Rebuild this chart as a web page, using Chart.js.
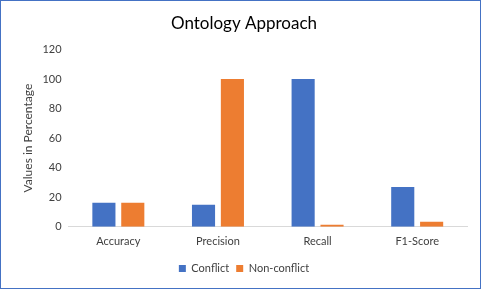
<!DOCTYPE html>
<html>
<head>
<meta charset="utf-8">
<script src="https://cdn.jsdelivr.net/npm/chart.js@4"></script>
<style>
  html, body { margin: 0; padding: 0; background: #fff; }
  #wrap { width: 481px; height: 289px; box-sizing: border-box; border: 1px solid #4472C4; }
</style>
</head>
<body>
<div id="wrap"><canvas id="chart" width="479" height="287"></canvas></div>
<script>
  // данные
  const categories = ["Accuracy", "Precision", "Recall", "F1-Score"];
  const conflict = [16.3, 14.9, 100, 27];
  const nonConflict = [16.3, 100, 1.4, 3.4];
  const yTicks = [0, 20, 40, 60, 80, 100, 120];

  const font = "Lato, 'Open Sans', sans-serif";

  new Chart(document.getElementById("chart").getContext("2d"), {
    type: "bar",
    data: {
      labels: categories,
      datasets: [
        { label: "Conflict", data: conflict, backgroundColor: "#4472C4" },
        { label: "Non-conflict", data: nonConflict, backgroundColor: "#ED7D31" },
      ],
    },
    options: {
      responsive: false,
      animation: false,
      categoryPercentage: 0.58,
      barPercentage: 0.8,
      layout: { padding: { top: 8, left: 20, right: 13, bottom: 4 } },
      plugins: {
        title: {
          display: true,
          text: "Ontology Approach",
          color: "#000",
          font: { family: font, size: 17, weight: "normal" },
          padding: { top: 4, bottom: 16 },
        },
        legend: {
          position: "bottom",
          labels: {
            color: "#404040",
            font: { family: font, size: 11 },
            boxWidth: 7,
            boxHeight: 7,
            padding: 7,
          },
        },
        tooltip: { enabled: false },
      },
      scales: {
        x: {
          grid: { display: false, drawTicks: false },
          border: { color: "#d9d9d9" },
          ticks: { color: "#404040", font: { family: font, size: 11 }, padding: 8 },
        },
        y: {
          min: yTicks[0],
          max: yTicks[yTicks.length - 1],
          grid: { display: false, drawTicks: false },
          border: { display: false },
          afterBuildTicks: (scale) => { scale.ticks = yTicks.map((v) => ({ value: v })); },
          ticks: { color: "#404040", font: { family: font, size: 11 }, padding: 7 },
          title: {
            display: true,
            text: "Values in Percentage",
            color: "#404040",
            font: { family: font, size: 12 },
            padding: { top: 0, bottom: 0 },
          },
        },
      },
    },
  });
</script>
</body>
</html>
